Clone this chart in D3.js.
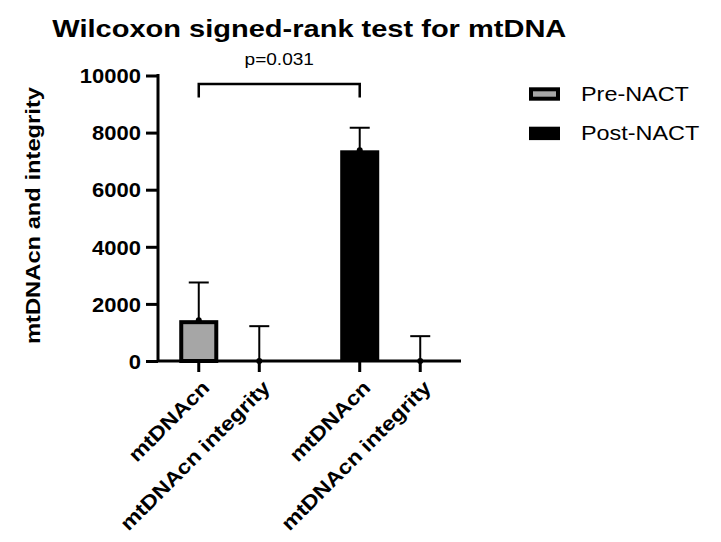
<!DOCTYPE html>
<html>
<head>
<meta charset="utf-8">
<script src="https://cdn.jsdelivr.net/npm/d3@7"></script>
<style>
  body { margin: 0; background: #fff; }
  text { font-family: "Liberation Sans", Arial, sans-serif; fill: #000; }
</style>
</head>
<body>
<script>
// chart data
var groups = ["Pre-NACT", "Post-NACT"];
var measures = ["mtDNAcn", "mtDNAcn integrity"];
var meanPre = [1430, 0];
var meanPost = [7380, 0];
var upperPre = [2750, 1220];
var upperPost = [8170, 870];
var yTicks = [0, 2000, 4000, 6000, 8000, 10000];
var pLabel = "p=0.031";

window.onload = function(){
    var w = 721, h = 542;
    var grey = "#a6a6a6";

    var svg = d3.select("body").append("svg")
        .attr("width", w)
        .attr("height", h);

    // stretch text a little wider, the source font renders wider than Arial
    function widen(sel, k){
        sel.each(function(){
            var len = this.getComputedTextLength();
            d3.select(this).attr("textLength", len * k).attr("lengthAdjust", "spacingAndGlyphs");
        });
    }

    var rows = [];
    groups.forEach(function(g, gi){
        measures.forEach(function(m, mi){
            rows.push({
                group: g,
                measure: m,
                mean: gi == 0 ? meanPre[mi] : meanPost[mi],
                upper: gi == 0 ? upperPre[mi] : upperPost[mi]
            });
        });
    });

    var y = d3.scaleLinear().domain([0, 10000]).range([361, 75.5]);
    var x0 = d3.scaleBand().domain(groups).range([168.5, 450.5]).paddingInner(0.248);
    var x1 = d3.scaleBand().domain(measures).range([0, x0.bandwidth()]);
    function cx(d){ return x0(d.group) + x1(d.measure) + x1.bandwidth() / 2; }
    var barW = x1.bandwidth() * 0.645;
    var axisLeftX = 158, axisRightX = 461;

    // bars
    var bars = svg.append("g").attr("class", "bars");
    bars.selectAll("rect")
        .data(rows.filter(function(d){ return d.mean > 0; }))
        .enter()
        .append("rect")
        .attr("x", function(d){ return cx(d) - barW / 2 + (d.group == groups[0] ? 2 : 0); })
        .attr("y", function(d){ return y(d.mean) + (d.group == groups[0] ? 2 : 0); })
        .attr("width", function(d){ return barW - (d.group == groups[0] ? 4 : 0); })
        .attr("height", function(d){ return y(0) - y(d.mean) - (d.group == groups[0] ? 2 : 0); })
        .style("fill", function(d){ return d.group == groups[0] ? grey : "#000"; })
        .style("stroke", "#000")
        .style("stroke-width", function(d){ return d.group == groups[0] ? 4 : 0; });

    // y axis
    var yAxis = d3.axisLeft(y).tickValues(yTicks).tickFormat(d3.format("d"))
        .tickSize(12).tickSizeOuter(0).tickPadding(5);
    var ya = svg.append("g")
        .attr("class", "axis")
        .attr("transform", "translate(" + axisLeftX + ",0)")
        .call(yAxis);
    ya.select(".domain").remove();
    ya.selectAll("line").style("stroke", "#000").style("stroke-width", 3);
    ya.selectAll("text")
        .style("font-size", "20px")
        .style("font-weight", "bold")
        .attr("dy", "0.36em")
        .call(widen, 1.1);
    svg.append("line")
        .attr("x1", axisLeftX).attr("x2", axisLeftX)
        .attr("y1", y(10000) - 1.5).attr("y2", y(0))
        .style("stroke", "#000").style("stroke-width", 3);

    // x axis line + ticks
    svg.append("line")
        .attr("x1", axisLeftX).attr("x2", axisRightX)
        .attr("y1", y(0)).attr("y2", y(0))
        .style("stroke", "#000").style("stroke-width", 3);
    svg.selectAll(".xtick")
        .data(rows)
        .enter()
        .append("line")
        .attr("class", "xtick")
        .attr("x1", cx).attr("x2", cx)
        .attr("y1", y(0)).attr("y2", y(0) + 11)
        .style("stroke", "#000").style("stroke-width", 3);

    var xl = svg.selectAll(".xlabel")
        .data(rows)
        .enter()
        .append("text")
        .attr("class", "xlabel")
        .attr("text-anchor", "end")
        .attr("transform", function(d){ return "translate(" + (cx(d) + 12) + "," + (y(0) + 28) + ") rotate(-45)"; })
        .style("font-size", "20px")
        .style("font-weight", "bold")
        .text(function(d){ return d.measure; });
    xl.call(widen, 1.15);

    // error bars
    var err = svg.append("g").attr("class", "errors");
    err.selectAll(".eline")
        .data(rows)
        .enter()
        .append("line")
        .attr("x1", cx).attr("x2", cx)
        .attr("y1", function(d){ return y(d.mean); })
        .attr("y2", function(d){ return y(d.upper); })
        .style("stroke", "#000").style("stroke-width", 2);
    err.selectAll(".ecap")
        .data(rows)
        .enter()
        .append("line")
        .attr("x1", function(d){ return cx(d) - 10; })
        .attr("x2", function(d){ return cx(d) + 10; })
        .attr("y1", function(d){ return y(d.upper); })
        .attr("y2", function(d){ return y(d.upper); })
        .style("stroke", "#000").style("stroke-width", 2);
    err.selectAll("circle")
        .data(rows)
        .enter()
        .append("circle")
        .attr("cx", cx)
        .attr("cy", function(d){ return y(d.mean); })
        .attr("r", 3)
        .style("fill", "#000");

    // significance bracket between the two mtDNAcn bars
    var bx1 = cx(rows[0]), bx2 = cx(rows[2]);
    svg.append("path")
        .attr("d", "M" + bx1 + "," + 97.5 + "V" + 84 + "H" + bx2 + "V" + 97.5)
        .style("fill", "none").style("stroke", "#000").style("stroke-width", 2.5);
    svg.append("text")
        .attr("x", (bx1 + bx2) / 2)
        .attr("y", 65)
        .attr("text-anchor", "middle")
        .style("font-size", "16px")
        .text(pLabel)
        .call(widen, 1.19);

    // title
    svg.append("text")
        .attr("x", 52.3)
        .attr("y", 37.3)
        .style("font-size", "24.5px")
        .style("font-weight", "bold")
        .text("Wilcoxon signed-rank test for mtDNA")
        .attr("textLength", 514)
        .attr("lengthAdjust", "spacingAndGlyphs");

    // y axis title
    svg.append("text")
        .attr("transform", "translate(39.5,215.5) rotate(-90)")
        .attr("text-anchor", "middle")
        .style("font-size", "21px")
        .style("font-weight", "bold")
        .text("mtDNAcn and integrity")
        .attr("textLength", 257)
        .attr("lengthAdjust", "spacingAndGlyphs");

    // legend
    var legend = svg.selectAll(".legend")
        .data(groups)
        .enter()
        .append("g")
        .attr("class", "legend")
        .attr("transform", function(d, i){ return "translate(529," + (87.3 + i * 39.4) + ")"; });
    legend.append("rect")
        .attr("x", function(d, i){ return i == 0 ? 2 : 0; })
        .attr("y", function(d, i){ return i == 0 ? 2 : 0; })
        .attr("width", function(d, i){ return i == 0 ? 27 : 31; })
        .attr("height", function(d, i){ return i == 0 ? 9.4 : 13.4; })
        .style("fill", function(d, i){ return i == 0 ? grey : "#000"; })
        .style("stroke", "#000")
        .style("stroke-width", function(d, i){ return i == 0 ? 4 : 0; });
    legend.append("text")
        .attr("x", 52)
        .attr("y", 13.4)
        .style("font-size", "20px")
        .text(function(d){ return d; })
        .call(widen, 1.17);
};
</script>
</body>
</html>
